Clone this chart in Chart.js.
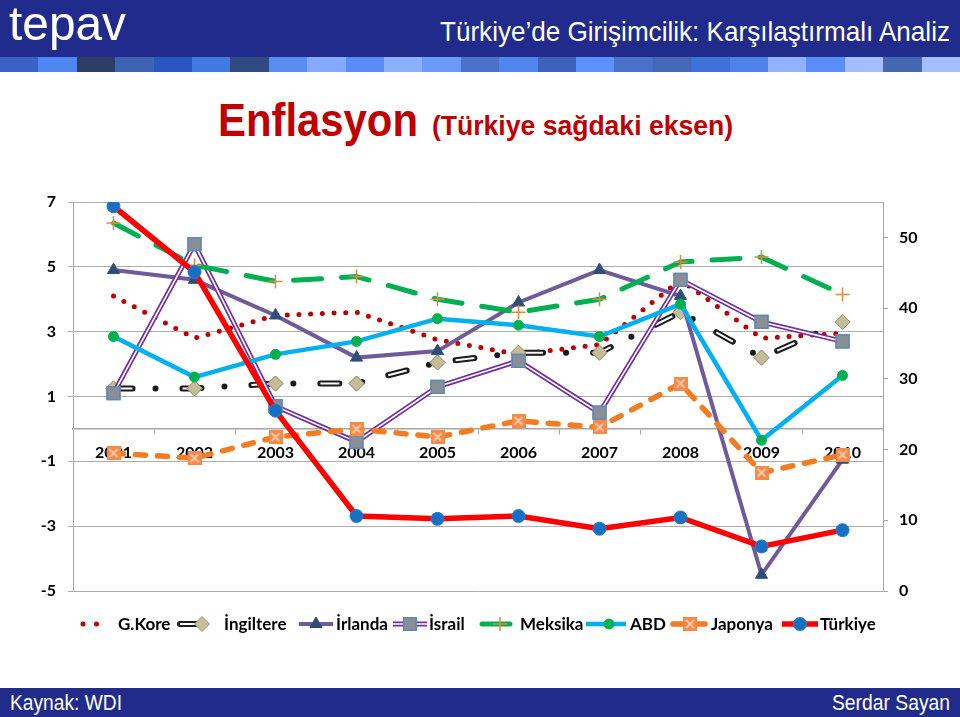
<!DOCTYPE html>
<html>
<head>
<meta charset="utf-8">
<script src="https://cdn.jsdelivr.net/npm/chart.js@4.4.0/dist/chart.umd.min.js"></script>
<style>
html,body{margin:0;padding:0;background:#fff;}
#page{position:relative;width:960px;height:717px;overflow:hidden;font-family:"Liberation Sans",Arial,sans-serif;}
.abs{position:absolute;white-space:nowrap;line-height:1;transform-origin:left top;}
#hdr{position:absolute;left:0;top:0;width:960px;height:57px;background:#202B8B;}
#strip{position:absolute;left:0;top:57px;width:960px;height:15px;}
#strip div{position:absolute;top:0;height:15px;}
#ftr{position:absolute;left:0;top:688px;width:960px;height:29px;background:#202B8B;}
canvas{position:absolute;left:0;top:0;}
</style>
</head>
<body>
<div id="page">
  <div id="hdr"></div>
  <div id="strip"></div>
  <div class="abs" id="logo" style="left:9px;top:-1px;color:#fff;font-size:49px;" data-w="117">tepav</div>
  <div class="abs" id="htitle" style="left:440px;top:18px;color:#fff;font-size:28px;" data-w="510">Türkiye’de Girişimcilik: Karşılaştırmalı Analiz</div>
  <div class="abs" id="t1" style="left:218px;top:97px;color:#C00000;font-weight:bold;font-size:46px;" data-w="200">Enflasyon</div>
  <div class="abs" id="t2" style="left:432px;top:113px;color:#C00000;font-weight:bold;font-size:27px;" data-w="301">(Türkiye sağdaki eksen)</div>
  <div id="ftr"></div>
  <div class="abs" style="left:10px;top:692px;color:#fff;font-size:22px;" data-w="112">Kaynak: WDI</div>
  <div class="abs" style="left:832px;top:692px;color:#fff;font-size:22px;" data-w="118">Serdar Sayan</div>
  <canvas id="c" width="960" height="717"></canvas>
</div>
<script>
// ---------------- DATA ----------------
const years = ['2001','2002','2003','2004','2005','2006','2007','2008','2009','2010'];
const gKore     = [4.1, 2.8, 3.5, 3.6, 2.75, 2.3, 2.6, 4.6, 2.8, 2.95];
const ingiltere = [1.25, 1.25, 1.4, 1.4, 2.05, 2.35, 2.35, 3.6, 2.2, 3.3];
const irlanda   = [4.9, 4.6, 3.5, 2.2, 2.4, 3.9, 4.9, 4.1, -4.5, -0.95];
const israil    = [1.1, 5.7, 0.7, -0.4, 1.3, 2.1, 0.5, 4.6, 3.3, 2.7];
const meksika   = [6.35, 5.05, 4.55, 4.7, 4.0, 3.6, 4.0, 5.15, 5.3, 4.15];
const abd       = [2.85, 1.6, 2.3, 2.7, 3.4, 3.2, 2.85, 3.85, -0.35, 1.65];
const japonya   = [-0.75, -0.9, -0.25, 0.0, -0.25, 0.25, 0.05, 1.4, -1.35, -0.8];
const turkiye   = [54.4, 45.1, 25.5, 10.6, 10.2, 10.6, 8.8, 10.4, 6.3, 8.6];
const seriesNames = ['G.Kore','İngiltere','İrlanda','İsrail','Meksika','ABD','Japonya','Türkiye'];
const leftTicks = {min:-5, max:7, step:2};
const rightTicks = {min:0, max:55, step:10};

// ---------------- header strip ----------------
const stripColors = ['#3A62C4','#4F86F2','#2C3E64','#3D63B2','#2A56C2','#4079E0','#2F4B82','#5A8DF2','#84AAFF','#5A8CF8','#8CB2FF','#6C9AF8','#4A72C8','#4F85EC','#3D62B8','#5C90FF','#4A71C8','#4468B6','#3E72D8','#4D82E8','#92B2FF','#5B8DF8','#A2BEFF','#4567B0','#A2BEFF'];
const strip = document.getElementById('strip');
stripColors.forEach((c,i)=>{
  const d=document.createElement('div');
  d.style.left=(i*38.4)+'px'; d.style.width='38.6px'; d.style.background=c;
  strip.appendChild(d);
});
document.querySelectorAll('[data-w]').forEach(el=>{
  const w = el.getBoundingClientRect().width;
  el.style.transform = 'scaleX(' + (parseFloat(el.dataset.w)/w) + ')';
});

// ---------------- markers ----------------
function jpMarker(){
  const c=document.createElement('canvas'); c.width=14; c.height=14;
  const x=c.getContext('2d');
  x.fillStyle='#F5894A'; x.fillRect(0,0,14,14);
  x.strokeStyle='#FBC7A6'; x.lineWidth=2;
  x.beginPath(); x.moveTo(3,3); x.lineTo(11,11); x.moveTo(11,3); x.lineTo(3,11); x.stroke();
  return c;
}
const jpImg = jpMarker();

const FONT = {family:'Lato, "Open Sans", sans-serif', size:16, weight:'bold'};

const datasets = [
  {label:seriesNames[0], data:gKore, yAxisID:'y', order:8, borderColor:'#C00000', borderWidth:5,
   borderDash:[0,11.7], borderCapStyle:'round', pointRadius:0, legendDash:[0,13.5]},
  {label:seriesNames[1], data:ingiltere, yAxisID:'y', order:7, borderColor:'#1A1A1A', borderWidth:6,
   borderDash:[19,23,0,27], borderCapStyle:'round', pointStyle:'rectRot', pointRadius:7.5,
   pointBackgroundColor:'#C4BD97', pointBorderColor:'#9C9570', pointBorderWidth:1, inner:{color:'#fff', width:2}},
  {label:seriesNames[2], data:irlanda, yAxisID:'y', order:6, borderColor:'#6F5A9C', borderWidth:4,
   pointStyle:'triangle', pointRadius:7, pointBackgroundColor:'#2E4E78', pointBorderColor:'#2E4E78', pointBorderWidth:1},
  {label:seriesNames[3], data:israil, yAxisID:'y', order:5, borderColor:'#7030A0', borderWidth:5,
   pointStyle:'rect', pointRadius:9, pointBackgroundColor:'#8A8F96', pointBorderColor:'#5E8AB4', pointBorderWidth:1.5,
   inner:{color:'#fff', width:1.6}},
  {label:seriesNames[4], data:meksika, yAxisID:'y', order:4, borderColor:'#00B050', borderWidth:5,
   borderDash:[28,20], borderCapStyle:'round', pointStyle:'cross', pointRadius:7,
   pointBorderColor:'#E08A3C', pointBackgroundColor:'#E08A3C', pointBorderWidth:1.5},
  {label:seriesNames[5], data:abd, yAxisID:'y', order:3, borderColor:'#00B0F0', borderWidth:4.5,
   pointStyle:'circle', pointRadius:5, pointBackgroundColor:'#00B050', pointBorderColor:'#00B050', pointBorderWidth:1},
  {label:seriesNames[6], data:japonya, yAxisID:'y', order:2, borderColor:'#F47B20', borderWidth:5.5,
   borderDash:[10,12], borderCapStyle:'round', pointStyle:jpImg, pointRadius:7},
  {label:seriesNames[7], data:turkiye, yAxisID:'y1', order:1, borderColor:'#FF0000', borderWidth:5.5,
   pointStyle:'circle', pointRadius:6.5, pointBackgroundColor:'#1670C4', pointBorderColor:'#2A7BCB', pointBorderWidth:1},
];
datasets.forEach(d=>{ d.fill=false; d.tension=0; d.pointHoverRadius=d.pointRadius; });

// legend layout (sample start, sample end, marker x, text x)
const legendLayout = [
  [83,110,null,118],[180,199,202,224],[299,333,316,336],[393,427,410,429],
  [482,518,500,520],[586,626,609,630],[673,707,690,711],[782,818,800,820]
];
const LEGEND_Y = 624;

function strokePath(ctx, pts, color, width, dash, cap){
  ctx.save();
  ctx.strokeStyle=color; ctx.lineWidth=width; ctx.lineCap=cap||'butt'; ctx.lineJoin='round';
  ctx.setLineDash(dash||[]);
  ctx.beginPath();
  pts.forEach((p,i)=> i?ctx.lineTo(p.x,p.y):ctx.moveTo(p.x,p.y));
  ctx.stroke();
  ctx.restore();
}

const innerLines = {
  id:'innerLines',
  afterDatasetDraw(chart, args){
    const ds = chart.data.datasets[args.index];
    if(!ds.inner) return;
    const pts = args.meta.data.map(p=>({x:p.x,y:p.y}));
    strokePath(chart.ctx, pts, ds.inner.color, ds.inner.width, ds.borderDash, 'butt');
    args.meta.data.forEach(p=>p.draw(chart.ctx, chart.chartArea));
  }
};

const customLegend = {
  id:'customLegend',
  afterDraw(chart){
    const ctx = chart.ctx;
    chart.data.datasets.forEach((ds,i)=>{
      const [x0,x1,mx,tx] = legendLayout[i];
      const y = LEGEND_Y;
      const pts=[{x:x0,y},{x:x1,y}];
      strokePath(ctx, pts, ds.borderColor, ds.borderWidth, ds.legendDash||ds.borderDash, ds.borderCapStyle||'butt');
      if(ds.inner) strokePath(ctx, pts, ds.inner.color, ds.inner.width, ds.legendDash||ds.borderDash, 'butt');
      if(mx!==null && ds.pointRadius>0){
        ctx.save();
        ctx.fillStyle = ds.pointBackgroundColor||ds.borderColor;
        ctx.strokeStyle = ds.pointBorderColor||ds.borderColor;
        ctx.lineWidth = ds.pointBorderWidth||1;
        ctx.setLineDash([]);
        Chart.helpers.drawPoint(ctx, {pointStyle:ds.pointStyle, radius:ds.pointRadius, rotation:0, borderWidth:ds.pointBorderWidth||1}, mx, y);
        ctx.restore();
      }
      ctx.save();
      ctx.fillStyle='#000';
      ctx.font = 'bold 17px Lato, "Open Sans", sans-serif';
      ctx.textBaseline='middle'; ctx.textAlign='left';
      ctx.fillText(ds.label, tx, y+1);
      ctx.restore();
    });
  }
};

function zeroPad(s){ s.paddingTop=0; s.paddingBottom=0; s.paddingLeft=0; s.paddingRight=0; }

new Chart(document.getElementById('c'), {
  type:'line',
  data:{labels:years, datasets},
  options:{
    responsive:false, animation:false, devicePixelRatio:1,
    layout:{padding:{top:202,bottom:126,left:0,right:0}},
    plugins:{legend:{display:false}, tooltip:{enabled:false}},
    scales:{
      x:{type:'category', offset:true, position:{y:0},
         grid:{display:true, drawOnChartArea:false, drawTicks:true, tickLength:5, offset:true, color:'#A6A6A6'},
         border:{display:true, color:'#A6A6A6', width:1.5},
         ticks:{font:FONT, color:'#000', padding:9, maxRotation:0, autoSkip:false},
         afterFit:zeroPad},
      y:{position:'left', min:leftTicks.min, max:leftTicks.max,
         ticks:{stepSize:leftTicks.step, font:FONT, color:'#000', padding:12},
         grid:{color:'#ADADAD', drawTicks:true, tickLength:5},
         border:{display:true, color:'#A6A6A6'},
         afterFit(s){ s.width=73; zeroPad(s); }},
      y1:{position:'right', min:rightTicks.min, max:rightTicks.max,
         ticks:{stepSize:rightTicks.step, includeBounds:false, font:FONT, color:'#000', padding:11},
         afterBuildTicks(s){ s.ticks = s.ticks.filter(t=>t.value % rightTicks.step === 0); },
         grid:{drawOnChartArea:false, drawTicks:true, tickLength:5, color:'#A6A6A6'},
         border:{display:true, color:'#A6A6A6'},
         afterFit(s){ s.width=77; zeroPad(s); }}
    }
  },
  plugins:[innerLines, customLegend]
});
</script>
</body>
</html>
